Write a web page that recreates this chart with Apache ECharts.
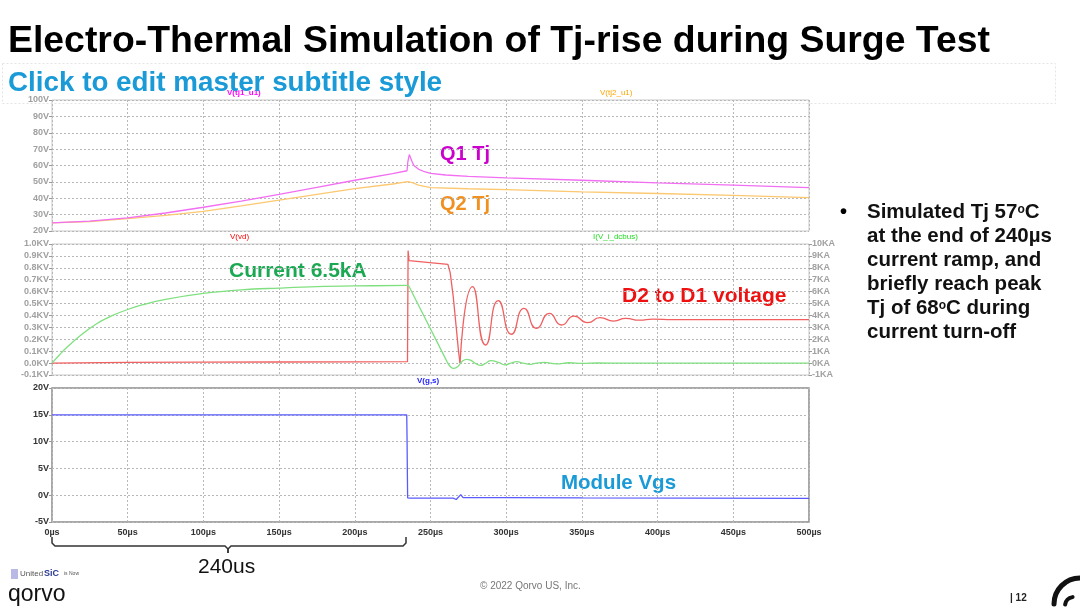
<!DOCTYPE html>
<html>
<head>
<meta charset="utf-8">
<script src="https://cdn.jsdelivr.net/npm/echarts@6/dist/echarts.min.js"></script>
<style>
  html, body { margin: 0; padding: 0; background: #fff; }
  #main { width: 1080px; height: 611px; }
</style>
</head>
<body>
<div id="main"></div>
<script>
// time axis, in µs
const timeTicks = [0, 50, 100, 150, 200, 250, 300, 350, 400, 450, 500];

// top panel: junction temperatures (V = °C)
const q1Tj = [[0,25],[25,26],[50,28],[75,31],[100,34.5],[125,38.3],[150,42.4],[175,46.6],[200,51],[225,55],
  [234.5,56.8],[235,62],[236,66.7],[237.5,63],[239,60],[242,57.8],[246,56.2],[250,55.2],[260,54.2],[275,53.4],
  [300,52.4],[350,51],[400,49.4],[450,48],[500,46.5]];
const q2Tj = [[0,25],[25,25.8],[50,27.6],[75,29.6],[100,32],[125,35.3],[150,38.8],[175,42.4],[200,45.9],[225,48.7],
  [235,50.1],[238,49.5],[242,48],[250,46.5],[275,45.8],[300,45.3],[350,43.9],[400,42.9],[450,41.8],[500,40.4]];

// middle panel: dc bus current (KA, right axis)
const iRamp = [[0,0],[5,0.7],[10,1.35],[20,2.45],[30,3.35],[40,4.0],[50,4.5],[60,4.9],[75,5.35],[100,5.85],
  [125,6.15],[150,6.3],[175,6.42],[200,6.48],[235.5,6.52]];
const iFall = [[235.5,6.52],[261,0.1]];
const iRing = [[261,0.1],[263.5,-0.35],[265.5,-0.44],[268,-0.3],[271,0.15],[274,0.32],[277,0.2],[280,-0.05],
  [283,-0.2],[286,-0.05],[290,0.2],[295,0.05],[299,-0.15],[303,0],[307,0.12],[311,0],[316,-0.1],[320,0],
  [325,0.06],[333,-0.06],[342,0.03],[350,-0.03],[360,0.01],[380,0],[500,0]];

// middle panel: drain voltage (KV, left axis)
const vdStep = [[0,0],[50,0.006],[100,0.008],[150,0.009],[200,0.01],[234.8,0.012],[235.2,0.944],[235.8,0.86],
  [236.5,0.85],[261.5,0.829],[263,0.76],[265,0.56],[267,0.3],[268.5,0.1],[269.5,0]];
const vdRing = [[269.5,0],[277.8,0.642],[286.4,0.152],[294.8,0.524],[303.5,0.242],[311.8,0.46],[320.1,0.292],
  [328.5,0.418],[336.6,0.32],[344.8,0.395],[353.8,0.34],[362,0.381],[371,0.353],[379,0.376],[388,0.36],
  [397,0.37],[410,0.365],[500,0.365]];

// bottom panel: gate-source voltage (V)
const vgs = [[0,15],[234.3,15],[234.5,10.8],[234.7,4.7],[234.9,-0.5],[235.5,-0.8],[236.5,-0.55],[265,-0.55],
  [267,-0.8],[270,0.1],[271.5,-0.45],[300,-0.45],[350,-0.5],[500,-0.6]];

const bulletLines = [
  '{b|Simulated Tj 57}{s|o}{b|C}',
  '{b|at the end of 240µs}',
  '{b|current ramp, and}',
  '{b|briefly reach peak}',
  '{b|Tj of 68}{s|o}{b|C during}',
  '{b|current turn-off}'
];

const FONT = '"Liberation Sans", Arial, sans-serif';
let myChart = echarts.init(document.getElementById('main'));

function xAxisFor(idx, showLabel) {
  return {
    type: 'value', gridIndex: idx, min: 0, max: 500, interval: 50,
    axisLine: {show: false},
    axisTick: {show: false},
    axisLabel: {
      show: showLabel, color: '#333', fontWeight: 'bold', fontSize: 9, fontFamily: FONT, margin: 6,
      formatter: v => v + 'µs'
    },
    splitLine: {show: true, lineStyle: {color: '#b8b8b8', type: [2, 2], width: 1}}
  };
}
function yAxisFor(idx, min, max, step, fmt, color, pos) {
  return {
    type: 'value', gridIndex: idx, min: min, max: max, interval: step, position: pos || 'left',
    axisLine: {show: false},
    axisTick: {show: true, length: 3, lineStyle: {color: '#999'}},
    axisLabel: {color: color, fontWeight: 'bold', fontSize: 9, fontFamily: FONT, margin: 3, formatter: fmt},
    splitLine: {show: pos !== 'right', lineStyle: {color: '#b8b8b8', type: [2, 2], width: 1}}
  };
}

function line(name, data, color, xi, yi, smooth) {
  return {
    name: name, type: 'line', data: data, xAxisIndex: xi, yAxisIndex: yi,
    showSymbol: false, smooth: smooth || false, animation: false,
    lineStyle: {color: color, width: 1.3}, z: 3
  };
}

function txt(x, y, text, color, font) {
  return {type: 'text', x: x, y: y, style: {text: text, fill: color, font: font}};
}

let option = {
  backgroundColor: '#fff',
  animation: false,
  grid: [
    {left: 52, top: 100, width: 757, height: 131, show: true, borderColor: '#c8c8c8', borderWidth: 1},
    {left: 52, top: 244, width: 757, height: 131, show: true, borderColor: '#c8c8c8', borderWidth: 1},
    {left: 52, top: 388, width: 757, height: 134, show: true, borderColor: '#8c8c8c', borderWidth: 1.5}
  ],
  xAxis: [xAxisFor(0, false), xAxisFor(1, false), xAxisFor(2, true)],
  yAxis: [
    yAxisFor(0, 20, 100, 10, '{value}V', '#a0a0a0'),
    yAxisFor(1, -0.1, 1.0, 0.1, v => v.toFixed(1) + 'KV', '#a0a0a0'),
    yAxisFor(1, -1, 10, 1, '{value}KA', '#a0a0a0', 'right'),
    yAxisFor(2, -5, 20, 5, '{value}V', '#333')
  ],
  series: [
    line('V(tj2_u1)', q2Tj, '#fcc870', 0, 0),
    line('V(tj1_u1)', q1Tj, '#f26ef2', 0, 0),
    line('V(vd)', vdStep, '#f06060', 1, 1),
    line('V(vd)', vdRing, '#f06060', 1, 1, 0.6),
    line('I(V_i_dcbus)', iRamp, '#80e080', 1, 2, 0.4),
    line('I(V_i_dcbus)', iFall, '#80e080', 1, 2),
    line('I(V_i_dcbus)', iRing, '#80e080', 1, 2, 0.5),
    line('V(g,s)', vgs, '#5a5aff', 2, 3)
  ],
  graphic: [
    // trace names
    txt(227, 89, 'V(tj1_u1)', '#ff00ff', 'bold 8px ' + FONT),
    txt(600, 89, 'V(tj2_u1)', '#ffa500', '8px ' + FONT),
    txt(230, 233, 'V(vd)', '#ff0000', '8px ' + FONT),
    txt(593, 233, 'I(V_i_dcbus)', '#22dd22', '8px ' + FONT),
    txt(417, 377, 'V(g,s)', '#2222ff', 'bold 8px ' + FONT),

    // title block
    txt(8, 23, 'Electro-Thermal Simulation of Tj-rise during Surge Test', '#000', 'bold 37.4px ' + FONT),
    {type: 'rect', shape: {x: 2.5, y: 63.5, width: 1053, height: 40},
      style: {fill: null, stroke: '#e4e4e4', lineDash: [2, 2], lineWidth: 1}},
    txt(8, 69, 'Click to edit master subtitle style', '#1a9ad6', 'bold 27.8px ' + FONT),

    // callouts
    txt(440, 144, 'Q1 Tj', '#cc00cc', 'bold 20px ' + FONT),
    txt(440, 194, 'Q2 Tj', '#f0901e', 'bold 20px ' + FONT),
    txt(229, 261, 'Current 6.5kA', '#1aa852', 'bold 21px ' + FONT),
    txt(622, 286, 'D2 to D1 voltage', '#ee1111', 'bold 21px ' + FONT),
    txt(561, 473, 'Module Vgs', '#1a9ad6', 'bold 20.5px ' + FONT),

    // bullet note
    txt(840, 202, '•', '#000', 'bold 20px ' + FONT),
    {type: 'text', x: 867, y: 200, style: {
      text: bulletLines.join('\n'),
      lineHeight: 24,
      rich: {
        b: {fontFamily: FONT, fontWeight: 'bold', fontSize: 20.5, fill: '#111', lineHeight: 24},
        s: {fontFamily: FONT, fontWeight: 'bold', fontSize: 12, fill: '#111', verticalAlign: 'top', lineHeight: 24, padding: [4, 0, 0, 0]}
      }
    }},

    // 240us bracket
    {type: 'polyline', shape: {points: [[52, 537], [52, 543], [55, 546], [225, 546], [228, 549], [228, 553]]},
      style: {fill: null, stroke: '#333', lineWidth: 1.5}},
    {type: 'polyline', shape: {points: [[228, 553], [228, 549], [231, 546], [403, 546], [406, 543], [406, 537]]},
      style: {fill: null, stroke: '#333', lineWidth: 1.5}},
    txt(198, 557, '240us', '#111', '21px ' + FONT),

    // footer
    txt(480, 581, '© 2022 Qorvo US, Inc.', '#777', '10px ' + FONT),
    txt(1010, 593, '| 12', '#222', 'bold 10px ' + FONT),
    {type: 'arc', shape: {cx: 1080, cy: 604, r: 26, startAngle: Math.PI * 1.0, endAngle: Math.PI * 1.5},
      style: {fill: null, stroke: '#111', lineWidth: 5, lineCap: 'round'}},
    {type: 'arc', shape: {cx: 1074, cy: 606, r: 9, startAngle: Math.PI * 1.05, endAngle: Math.PI * 1.45},
      style: {fill: null, stroke: '#111', lineWidth: 4, lineCap: 'round'}},
    {type: 'rect', shape: {x: 11, y: 569, width: 7, height: 10}, style: {fill: '#b9b9e6'}},
    txt(20, 570, 'United', '#555', '8px ' + FONT),
    txt(44, 569, 'SiC', '#2b3a8f', 'bold 9px ' + FONT),
    txt(64, 571, 'is Now', '#555', '5px ' + FONT),
    txt(8, 583, 'qorvo', '#111', '23px ' + FONT)
  ]
};

myChart.setOption(option);
</script>
</body>
</html>
